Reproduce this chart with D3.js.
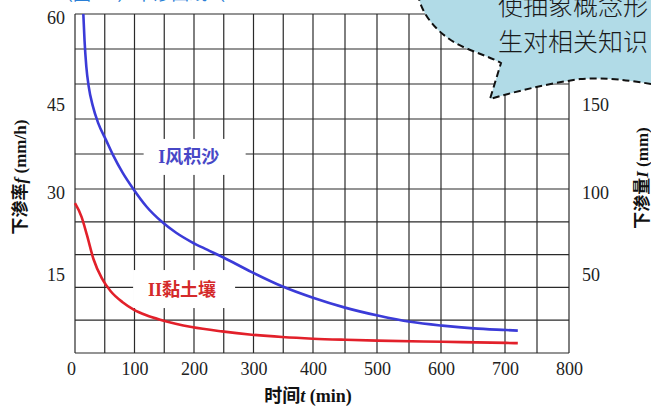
<!DOCTYPE html>
<html><head><meta charset="utf-8">
<script src="https://cdn.jsdelivr.net/npm/d3@7"></script>
<style>
html,body{margin:0;padding:0;background:#fff;}
svg{display:block;}
</style></head>
<body><svg id="c" width="651" height="407"></svg>
<script>
// ---------- data ----------
const tTicks = [0,100,200,300,400,500,600,700,800];
const fTicks = [15,30,45,60];
const iTicks = [50,100,150];
const seriesNames = ["I风积沙", "II黏土壤"];
const sandT = [14,16,19,23,30,39,53,64,80,98,120,146,170,196,222,247,297,348,400,450,503,552,602,651,702,720];
const sandF = [60,55.5,51,47.6,44.2,41.3,38.2,35.8,32.8,30,26.8,24.0,22.0,20.3,18.9,17.6,14.8,12.2,10.1,8.3,6.8,5.7,5.0,4.5,4.2,4.1];
const clayT = [0,11,20,31,45,60,80,98,120,146,196,247,297,348,400,451,500,602,702,720];
const clayF = [27.4,24.9,21.6,17.2,13.7,11.3,9.3,8.0,6.9,6.0,4.75,3.95,3.35,2.92,2.62,2.42,2.27,2.05,1.85,1.8];
const bubbleLines = ["使抽象概念形", "生对相关知识"];

// ---------- layout ----------
const svg = d3.select("#c");
const L = 75, R = 569, T = 14, B = 353;
const x = d3.scaleLinear().domain([0,400,800]).range([L,313,R]);
const y = d3.scaleLinear().domain([0,30,60]).range([B,189,T]);
const yR = d3.scaleLinear().domain([0,100,200]).range([B,189,T]);
const serif = "'Liberation Serif','Times New Roman',serif";
const cjk = "'Liberation Serif','Noto Sans CJK SC',serif";

// top-left cut-off blue text fragment
svg.append("text").attr("x",55).attr("y",0).attr("font-family","'Noto Sans CJK SC'")
  .attr("font-size",18).attr("fill","#2a7fd6").text("（图2-1）下渗曲线（");

// grid
const g = svg.append("g");
g.selectAll("line.v").data(d3.range(0,801,50)).join("line")
  .attr("x1",d=>x(d)).attr("x2",d=>x(d)).attr("y1",T).attr("y2",B)
  .attr("stroke","#2a2a2a").attr("stroke-width",1.2);
g.selectAll("line.h").data(d3.range(0,61,6)).join("line")
  .attr("x1",L).attr("x2",R).attr("y1",d=>y(d)).attr("y2",d=>y(d))
  .attr("stroke","#2a2a2a").attr("stroke-width",1.2);

// axes (labels only)
const ax = svg.append("g").attr("transform",`translate(0,${B})`)
  .call(d3.axisBottom(x).tickValues(tTicks).tickSize(0).tickPadding(9).tickFormat(d3.format("d")));
const ay = svg.append("g").attr("transform",`translate(${L},0)`)
  .call(d3.axisLeft(y).tickValues(fTicks).tickSize(0).tickPadding(10));
const ayR = svg.append("g").attr("transform",`translate(${R},0)`)
  .call(d3.axisRight(yR).tickValues(iTicks).tickSize(0).tickPadding(13));
[ax,ay,ayR].forEach(a=>{
  a.select(".domain").remove();
  a.selectAll("text").attr("font-family",serif).attr("font-size",18).attr("fill","#222");
});
ax.selectAll("text").filter(d=>d===0).attr("dx","-4");
ay.selectAll("text").attr("dy","0.5em");
ayR.selectAll("text").attr("dy","0.5em");

// label boxes (white) behind series names
const labels = [
  {name:seriesNames[0], t:191, v:35.5, dx:6, w:102, h:36, color:"#4747c6"},
  {name:seriesNames[1], t:180, v:11.7, dx:2, w:102, h:38, color:"#d42a2a"}
];
labels.forEach(l=>{
  svg.append("rect").attr("x",x(l.t)+l.dx-l.w/2).attr("y",y(l.v)-l.h/2)
    .attr("width",l.w).attr("height",l.h).attr("fill","#fff");
});

// curves
const line = d3.line().x(d=>x(d[0])).y(d=>y(d[1])).curve(d3.curveMonotoneX);
svg.append("path").datum(d3.zip(sandT,sandF)).attr("d",line)
  .attr("fill","none").attr("stroke","#3b3bd8").attr("stroke-width",2.6);
svg.append("path").datum(d3.zip(clayT,clayF)).attr("d",line)
  .attr("fill","none").attr("stroke","#e2202a").attr("stroke-width",2.6);

// series labels
labels.forEach(l=>{
  svg.append("text").attr("x",x(l.t)).attr("y",y(l.v)).attr("dy","0.36em")
    .attr("text-anchor","middle").attr("font-family",cjk).attr("font-weight","bold")
    .attr("font-size",18).attr("fill",l.color).text(l.name);
});

// axis titles
function title(sel, parts){
  parts.forEach(p=>{
    const ts = sel.append("tspan").text(p.s);
    if(p.i) ts.attr("font-style","italic");
  });
}
const xt = svg.append("text").attr("x",308).attr("y",402).attr("text-anchor","middle")
  .attr("font-family",cjk).attr("font-weight","bold").attr("font-size",18).attr("fill","#111");
title(xt,[{s:"时间"},{s:"t",i:true},{s:" (min)"}]);
const lt = svg.append("text").attr("transform","translate(20,177) rotate(-90)").attr("dy","0.35em")
  .attr("text-anchor","middle").attr("font-family",cjk).attr("font-weight","bold").attr("font-size",17).attr("fill","#111");
title(lt,[{s:"下渗率"},{s:"f",i:true},{s:" (mm/h)"}]);
const rt = svg.append("text").attr("transform","translate(642,178) rotate(-90)").attr("dy","0.35em")
  .attr("text-anchor","middle").attr("font-family",cjk).attr("font-weight","bold").attr("font-size",17).attr("fill","#111");
title(rt,[{s:"下渗量"},{s:"I",i:true},{s:" (mm)"}]);

// speech bubble overlay
svg.append("path")
  .attr("d","M418,-6 C421,15 440,38 468,49 C480,54 492,58 501,63 L490,99 C510,93 545,84 580,79 C605,77 630,80 662,86 L662,-6 Z")
  .attr("fill","#b1dbe7").attr("stroke","#111").attr("stroke-width",2)
  .attr("stroke-dasharray","7,4");
bubbleLines.forEach((s,i)=>{
  svg.append("text").attr("x",498).attr("y",15+i*36).attr("font-family","'Noto Sans CJK SC'")
    .attr("font-size",25).attr("font-weight",300).attr("fill","#1a1a1a").text(s);
});
</script></body></html>
